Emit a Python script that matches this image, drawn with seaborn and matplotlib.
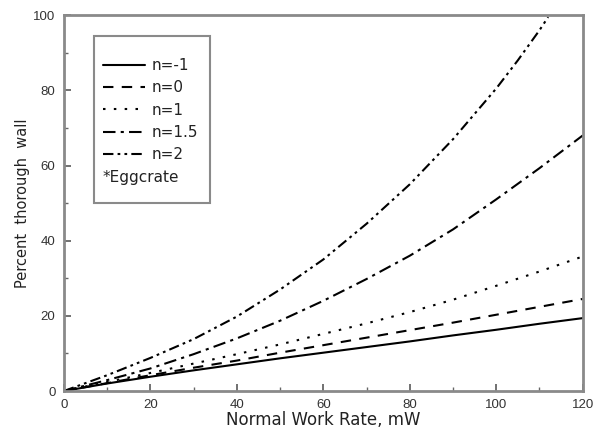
import numpy as np
import pandas as pd
import matplotlib
matplotlib.use("Agg")
import matplotlib.pyplot as plt
import seaborn as sns
from matplotlib.lines import Line2D
from matplotlib.patches import Rectangle
from matplotlib.ticker import MultipleLocator

# values
work_rate = [0, 10, 20, 30, 40, 50, 60, 70, 80, 90, 100, 110, 120]
pct_n_m1 = [0, 2.0, 3.8, 5.5, 7.1, 8.7, 10.2, 11.7, 13.2, 14.8, 16.3, 17.9, 19.4]
pct_n_0 = [0, 2.1, 4.2, 6.2, 8.1, 10.2, 12.2, 14.2, 16.2, 18.2, 20.3, 22.4, 24.5]
pct_n_1 = [0, 2.4, 4.8, 7.3, 9.8, 12.4, 15.2, 18.0, 21.0, 24.3, 28.0, 31.8, 35.8]
pct_n_15 = [0, 2.9, 6.0, 9.8, 14.0, 18.7, 24.0, 29.8, 36.0, 43.0, 51.0, 59.3, 68.0]
work_rate_n2 = [0, 10, 20, 30, 40, 50, 60, 70, 80, 90, 100, 105, 110, 112]
pct_n_2 = [0, 4.2, 8.8, 13.8, 19.8, 27.0, 35.0, 44.5, 55.0, 67.0, 80.5, 88.0, 96.0, 99.5]

series = [
    ("n=-1", work_rate, pct_n_m1, "-"),
    ("n=0", work_rate, pct_n_0, (0, (5, 4))),
    ("n=1", work_rate, pct_n_1, (0, (1.2, 4))),
    ("n=1.5", work_rate, pct_n_15, (0, (6, 2.5, 1.5, 2.5))),
    ("n=2", work_rate_n2, pct_n_2, (0, (5, 2, 1.3, 2, 1.3, 2))),
]

sns.set_style("white")
plt.rcParams["font.family"] = ["Liberation Sans", "DejaVu Sans"]

fig = plt.figure(figsize=(6.02, 4.34), dpi=100)
ax = fig.add_axes([0.106, 0.099, 0.862, 0.866])

for name, xs, ys, ls in series:
    df = pd.DataFrame({"x": xs, "y": ys})
    sns.lineplot(data=df, x="x", y="y", ax=ax, color="black", linewidth=1.5,
                 linestyle=ls, label=name)

ax.set_xlim(0, 120)
ax.set_ylim(0, 100)
ax.xaxis.set_major_locator(MultipleLocator(20))
ax.xaxis.set_minor_locator(MultipleLocator(10))
ax.yaxis.set_major_locator(MultipleLocator(20))
ax.yaxis.set_minor_locator(MultipleLocator(10))
ax.tick_params(which="both", direction="in", color="#666666", labelcolor="#333333",
               labelsize=9.5, bottom=True, left=True, top=False, right=False)
ax.tick_params(which="major", length=5, width=1.3, pad=6)
ax.tick_params(which="minor", length=3, width=1.0)
for sp in ax.spines.values():
    sp.set_color("#8a8a8a")
    sp.set_linewidth(2)

wide = ["DejaVu Sans"]
ax.set_xlabel("Normal Work Rate, mW", fontsize=12, color="#222222", labelpad=0,
              family=wide)
ax.set_ylabel("Percent  thorough  wall", fontsize=10.5, color="#222222", labelpad=2,
              family=wide)

handles, labels = ax.get_legend_handles_labels()
handles.append(Line2D([], [], linestyle="none"))
labels.append("*Eggcrate")
leg = ax.legend(handles, labels, loc="upper left", bbox_to_anchor=(0.075, 0.886),
                borderaxespad=0, borderpad=0, frameon=False,
                prop={"family": wide, "size": 11},
                handlelength=2.75, handletextpad=0.45, labelspacing=0.48)
for t in leg.get_texts():
    t.set_color("#222222")
# put "*Eggcrate" flush left, with no handle in front of it
row = leg._legend_handle_box.get_children()[0].get_children()[-1]
row.get_children().pop(0)

# legend box
ax.add_patch(Rectangle((0.058, 0.5), 0.223, 0.444, transform=ax.transAxes,
                       fill=False, edgecolor="#8a8a8a", linewidth=1.5, zorder=5))

fig.savefig("out.png", dpi=100)
